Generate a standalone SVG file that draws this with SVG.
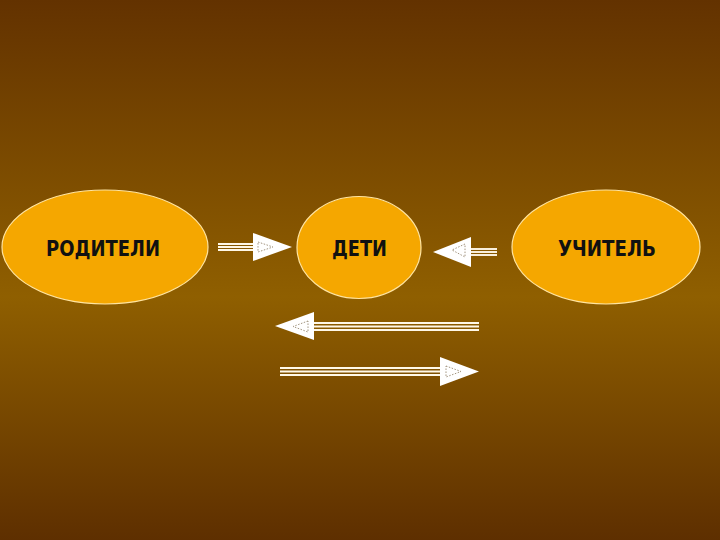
<svg xmlns="http://www.w3.org/2000/svg" width="720" height="540" viewBox="0 0 720 540">
<defs>
<linearGradient id="bg" x1="0" y1="0" x2="0" y2="1">
<stop offset="0" stop-color="#633200"/>
<stop offset="0.55" stop-color="#8f5f00"/>
<stop offset="1" stop-color="#5e2f00"/>
</linearGradient>
<style>
.node{fill:#f5a700;stroke:#ffe4a0;stroke-width:1.2}
.lbl{font-family:"DejaVu Sans",Verdana,sans-serif;font-weight:bold;font-size:20.5px;fill:#111;text-anchor:middle}
.tail{stroke:#fff8e8;stroke-width:1.9}
.head{fill:#ffffff}
.inner{fill:none;stroke:#8a7a60;stroke-width:0.8;stroke-dasharray:1.5 1.5}
</style>
</defs>
<rect width="720" height="540" fill="url(#bg)"/>
<g id="node-roditeli">
<ellipse class="node" cx="105" cy="247" rx="103" ry="57"/>
<text class="lbl" x="103" y="255.5" textLength="114" lengthAdjust="spacingAndGlyphs">РОДИТЕЛИ</text>
</g>
<g id="node-deti">
<ellipse class="node" cx="359" cy="247.5" rx="62" ry="51"/>
<text class="lbl" x="359.5" y="255.5" textLength="55" lengthAdjust="spacingAndGlyphs">ДЕТИ</text>
</g>
<g id="node-uchitel">
<ellipse class="node" cx="606" cy="247" rx="94" ry="57"/>
<text class="lbl" x="607" y="255.5" textLength="98" lengthAdjust="spacingAndGlyphs">УЧИТЕЛЬ</text>
</g>
<g id="connectors">
<g id="a1">
<line class="tail" x1="218" y1="244" x2="254" y2="244"/>
<line class="tail" x1="218" y1="247" x2="254" y2="247"/>
<line class="tail" x1="218" y1="250" x2="254" y2="250"/>
<polygon class="head" points="253,233 292,247 253,261"/>
<polygon class="inner" points="258,242 273,247 258,252"/>
</g>
<g id="a2">
<line class="tail" x1="469" y1="249" x2="497" y2="249"/>
<line class="tail" x1="469" y1="252" x2="497" y2="252"/>
<line class="tail" x1="469" y1="255" x2="497" y2="255"/>
<polygon class="head" points="471,237 433,252 471,267"/>
<polygon class="inner" points="465,244 452,250 465,257"/>
</g>
<g id="a3">
<line class="tail" x1="313" y1="323" x2="479" y2="323"/>
<line class="tail" x1="313" y1="326.5" x2="479" y2="326.5"/>
<line class="tail" x1="313" y1="330" x2="479" y2="330"/>
<polygon class="head" points="314,312 275,326 314,340"/>
<polygon class="inner" points="308,321 293,326.5 308,332"/>
</g>
<g id="a4">
<line class="tail" x1="280" y1="368" x2="441" y2="368"/>
<line class="tail" x1="280" y1="371.5" x2="441" y2="371.5"/>
<line class="tail" x1="280" y1="375" x2="441" y2="375"/>
<polygon class="head" points="440,357 479,371.5 440,386"/>
<polygon class="inner" points="446,366 461,371.5 446,377"/>
</g>
</g>
</svg>
